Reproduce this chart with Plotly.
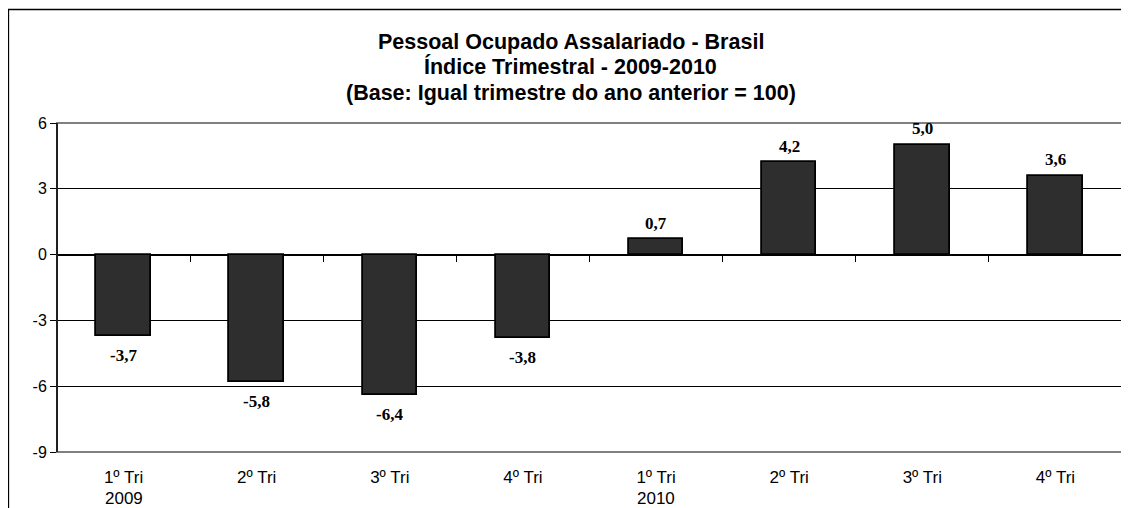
import plotly.graph_objects as go

quarters = ["1º Tri", "2º Tri", "3º Tri", "4º Tri", "1º Tri", "2º Tri", "3º Tri", "4º Tri"]
years = ["2009", "", "", "", "2010", "", "", ""]
values = [-3.7, -5.8, -6.4, -3.8, 0.7, 4.2, 5.0, 3.6]
value_labels = ["-3,7", "-5,8", "-6,4", "-3,8", "0,7", "4,2", "5,0", "3,6"]
y_ticks = [-9, -6, -3, 0, 3, 6]
y_tick_labels = ["-9", "-6", "-3", "0", "3", "6"]
title_lines = [
    "Pessoal Ocupado Assalariado - Brasil",
    "Índice Trimestral - 2009-2010",
    "(Base: Igual trimestre do ano anterior = 100)",
]

idx = list(range(len(values)))

# page body adds an 8px offset; figure sized accordingly
W, H = 1121, 500
ML, MR, MT, MB = 49, 7, 115, 56
YMIN, YMAX = -9, 6
plot_w = W - ML - MR
plot_h = H - MT - MB

fig = go.Figure()
fig.add_trace(go.Bar(
    x=idx, y=values, width=0.41,
    marker=dict(color="#2e2e2e", line=dict(color="#000000", width=1.8)),
    hoverinfo="skip", showlegend=False,
))

annotations = []
for i, v, t in zip(idx, values, value_labels):
    annotations.append(dict(
        x=i, y=v, xref="x", yref="y", text="<b>%s</b>" % t, showarrow=False,
        yanchor="middle", yshift=16 if v >= 0 else -20,
        font=dict(family="Liberation Serif, Times New Roman, serif", size=17, color="#000"),
    ))

# year labels under the quarter labels
for i, yr in zip(idx, years):
    if yr:
        annotations.append(dict(
            x=i, y=0, xref="x", yref="paper", text=yr, showarrow=False,
            yanchor="middle", yshift=-46,
            font=dict(family="Liberation Sans, Arial, sans-serif", size=17, color="#000"),
        ))

# title lines
title_centers = [34, 59, 85]
fig_center_paper = ((W / 2 + 2) - ML) / plot_w
for line, cy in zip(title_lines, title_centers):
    annotations.append(dict(
        x=fig_center_paper, xref="paper", y=1 + (MT - cy) / plot_h, yref="paper",
        xanchor="center", yanchor="middle", showarrow=False,
        text="<b>%s</b>" % line,
        font=dict(family="Liberation Sans, Arial, sans-serif", size=21.5, color="#000"),
    ))

shapes = [
    dict(type="rect", xref="paper", yref="paper", x0=0, x1=1, y0=0, y1=1,
         line=dict(color="#808080", width=2), layer="above"),
    dict(type="line", xref="paper", yref="paper", x0=0, x1=0, y0=0, y1=1,
         line=dict(color="#000000", width=1.5), layer="above"),
    dict(type="rect", xref="paper", yref="paper",
         x0=(0.5 - ML) / plot_w, x1=1.2, y0=-0.5, y1=1 + (MT - 1.5) / plot_h,
         line=dict(color="#000000", width=1.3), layer="above"),
]

fig.update_layout(
    width=W, height=H,
    margin=dict(l=ML, r=MR, t=MT, b=MB),
    paper_bgcolor="white", plot_bgcolor="white",
    font=dict(family="Liberation Sans, Arial, sans-serif", size=16, color="#000"),
    xaxis=dict(
        range=[-0.5, len(values) - 0.5],
        tickmode="array", tickvals=idx, ticktext=quarters,
        showgrid=False, zeroline=False, showline=False,
        ticks="", ticklabelstandoff=13,
        tickfont=dict(size=17),
    ),
    xaxis2=dict(
        overlaying="x", anchor="free", position=(0 - YMIN) / (YMAX - YMIN),
        range=[-0.5, len(values) - 0.5],
        tickmode="array", tickvals=[i + 0.5 for i in idx[:-1]],
        ticks="outside", ticklen=6, tickwidth=1, tickcolor="#000",
        showticklabels=False, showgrid=False, zeroline=False, showline=False,
        side="bottom",
    ),
    yaxis=dict(
        range=[YMIN, YMAX], tickmode="array", tickvals=y_ticks, ticktext=y_tick_labels,
        showgrid=True, gridcolor="#000000", gridwidth=1,
        zeroline=True, zerolinecolor="#000000", zerolinewidth=1.5,
        ticks="outside", ticklen=6, tickcolor="#000",
        tickfont=dict(size=16),
    ),
    shapes=shapes,
    annotations=annotations,
    bargap=0,
)

fig.add_trace(go.Scatter(x=[0], y=[0], xaxis="x2", mode="markers",
                         marker=dict(opacity=0), hoverinfo="skip", showlegend=False))

fig.write_html("out.html")
